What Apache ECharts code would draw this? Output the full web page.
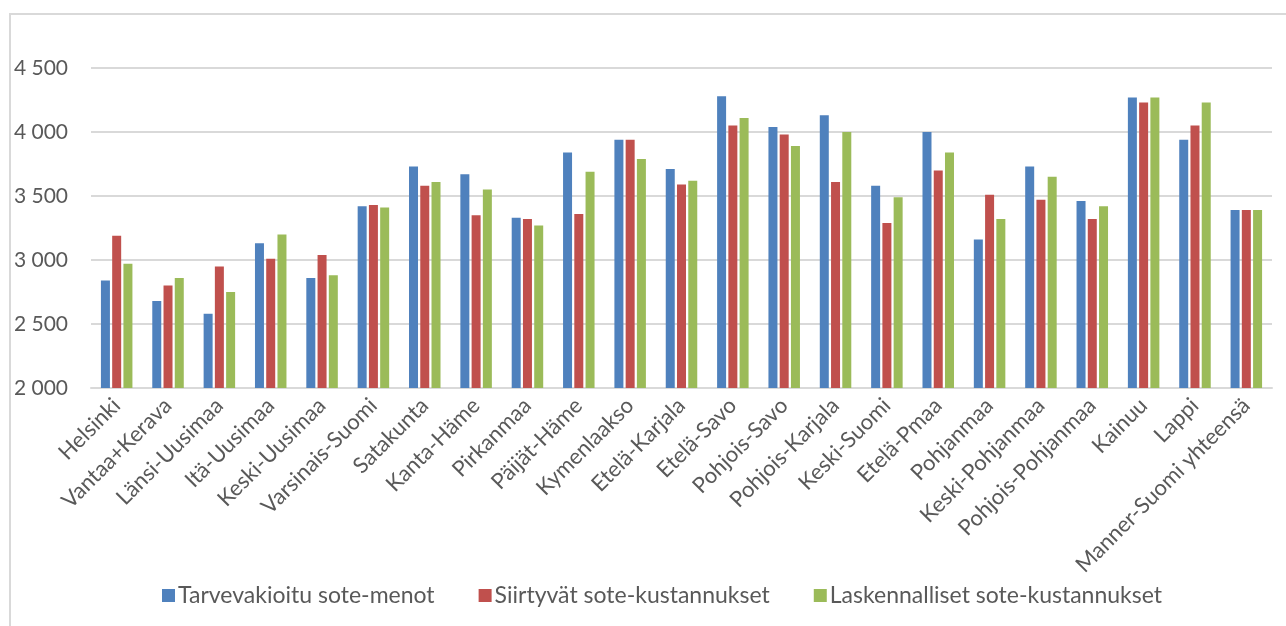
<!DOCTYPE html>
<html>
<head>
<meta charset="utf-8">
<script src="https://cdn.jsdelivr.net/npm/echarts@6/dist/echarts.min.js"></script>
<style>
html,body{margin:0;padding:0;background:#fff;}
#c{width:1286px;height:626px;}
</style>
</head>
<body>
<div id="c"></div>
<script>
const categories = ["Helsinki","Vantaa+Kerava","Länsi-Uusimaa","Itä-Uusimaa","Keski-Uusimaa","Varsinais-Suomi","Satakunta","Kanta-Häme","Pirkanmaa","Päijät-Häme","Kymenlaakso","Etelä-Karjala","Etelä-Savo","Pohjois-Savo","Pohjois-Karjala","Keski-Suomi","Etelä-Pmaa","Pohjanmaa","Keski-Pohjanmaa","Pohjois-Pohjanmaa","Kainuu","Lappi","Manner-Suomi yhteensä"];
const seriesNames = ["Tarvevakioitu sote-menot","Siirtyvät sote-kustannukset","Laskennalliset sote-kustannukset"];
const tarvevakioitu = [2840,2680,2580,3130,2860,3420,3730,3670,3330,3840,3940,3710,4280,4040,4130,3580,4000,3160,3730,3460,4270,3940,3390];
const siirtyvat = [3190,2800,2950,3010,3040,3430,3580,3350,3320,3360,3940,3590,4050,3980,3610,3290,3700,3510,3470,3320,4230,4050,3390];
const laskennalliset = [2970,2860,2750,3200,2880,3410,3610,3550,3270,3690,3790,3620,4110,3890,4000,3490,3840,3320,3650,3420,4270,4230,3390];
const colors = ["#4F81BD","#C0504D","#9BBB59"];
const yMin = 2000, yMax = 4500, yInterval = 500;

const font = "Lato";
const chart = echarts.init(document.getElementById('c'), null, {renderer:'canvas'});
const values = [tarvevakioitu, siirtyvat, laskennalliset];
chart.setOption({
  animation:false,
  backgroundColor:'#fff',
  textStyle:{fontFamily:font},
  graphic:[{type:'rect',shape:{x:10,y:14,width:1400,height:700},style:{fill:'none',stroke:'#d9d9d9',lineWidth:2},silent:true}],
  grid:{left:91,right:14,top:68,bottom:238,containLabel:false},
  legend:{
    bottom:14,left:157,itemWidth:13,itemHeight:13,itemGap:44,icon:'rect',
    textStyle:{color:'#595959',fontSize:23,fontFamily:font,padding:[0,0,0,-2]},
    data:seriesNames
  },
  xAxis:{
    type:'category',data:categories,
    axisLine:{lineStyle:{color:'#d9d9d9',width:2}},
    axisTick:{show:false},
    axisLabel:{rotate:45,interval:0,color:'#595959',fontSize:22,fontFamily:font,margin:14}
  },
  yAxis:{
    type:'value',min:yMin,max:yMax,interval:yInterval,
    axisLine:{show:false},axisTick:{show:false},
    splitLine:{lineStyle:{color:'#d9d9d9',width:2}},
    axisLabel:{color:'#595959',fontSize:21,fontFamily:font,margin:23,
      formatter:v=>String(v).replace(/\B(?=(\d{3})+(?!\d))/g,' ')}
  },
  series:seriesNames.map((n,i)=>({
    name:n,type:'bar',data:values[i],barWidth:9,barGap:'25%',
    itemStyle:{color:colors[i]}
  }))
});
</script>
</body>
</html>
